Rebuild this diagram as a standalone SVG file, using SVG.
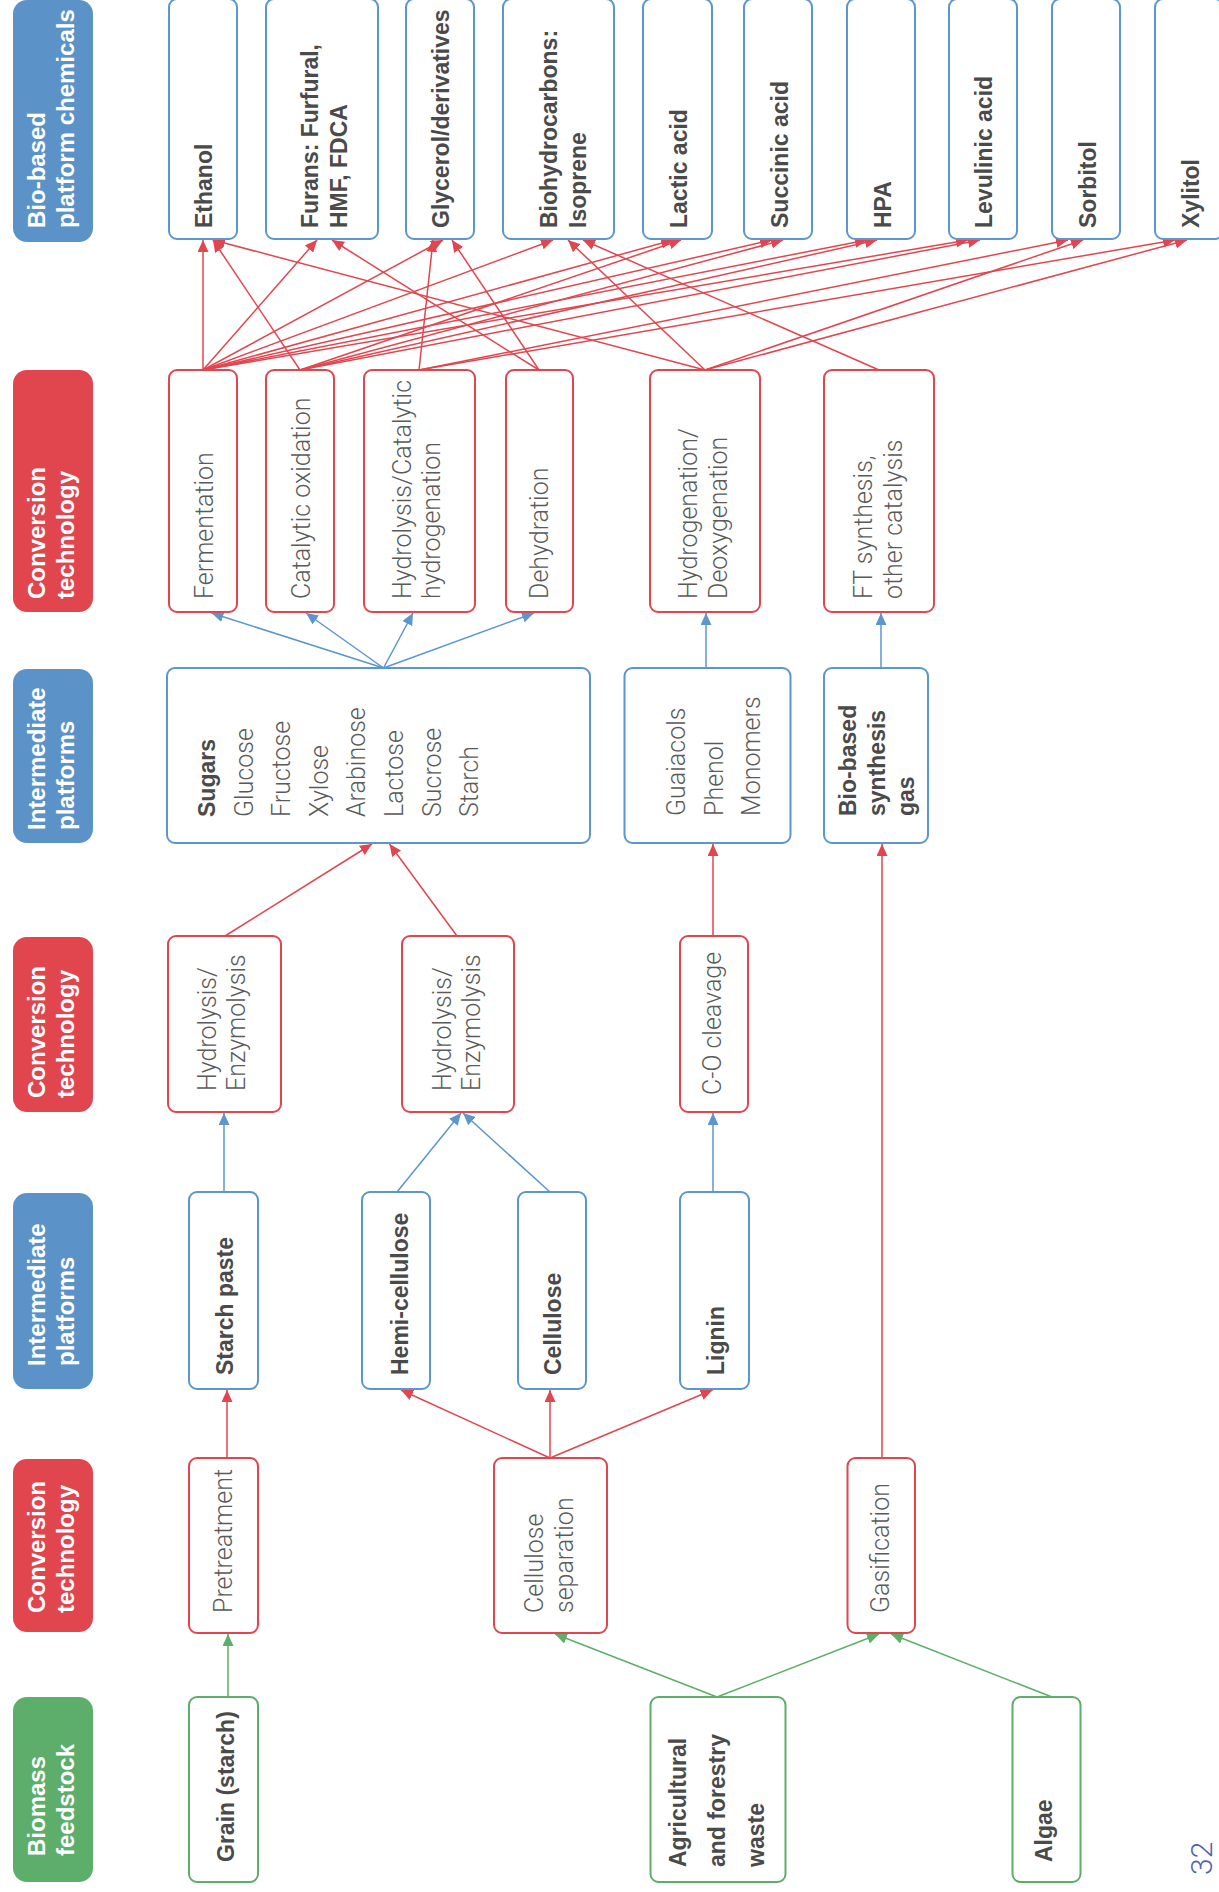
<svg xmlns="http://www.w3.org/2000/svg" width="1219" height="1892" viewBox="0 0 1219 1892">
<defs>
<marker id="mr" viewBox="0 0 12 11" refX="12" refY="5.5" markerWidth="12" markerHeight="11" markerUnits="userSpaceOnUse" orient="auto"><path d="M0,0 L12,5.5 L0,11 z" fill="#e1464f"/></marker>
<marker id="mb" viewBox="0 0 12 11" refX="12" refY="5.5" markerWidth="12" markerHeight="11" markerUnits="userSpaceOnUse" orient="auto"><path d="M0,0 L12,5.5 L0,11 z" fill="#5b96cf"/></marker>
<marker id="mg" viewBox="0 0 12 11" refX="12" refY="5.5" markerWidth="12" markerHeight="11" markerUnits="userSpaceOnUse" orient="auto"><path d="M0,0 L12,5.5 L0,11 z" fill="#5cae6a"/></marker>
</defs>
<style>
.hb{fill:#5b93c9}.hr{fill:#e1464f}.hg{fill:#5cae6a}
.ht{font-family:"Liberation Sans",Arial,sans-serif;font-weight:700;font-size:24px;fill:#fff}
.nb rect{fill:#fff;stroke:#5b96cf;stroke-width:2}
.nr rect{fill:#fff;stroke:#e1464f;stroke-width:2}
.ng rect{fill:#fff;stroke:#5cae6a;stroke-width:2}
.tb{font-family:"Liberation Sans",Arial,sans-serif;font-weight:700;font-size:23px;fill:#4a4a4a}
.tl{font-family:Roboto,"Liberation Sans",sans-serif;font-weight:300;font-size:25px;fill:#5a5a5a}
.er{stroke:#e1464f;stroke-width:1.5;fill:none;marker-end:url(#mr)}
.eb{stroke:#5b96cf;stroke-width:1.5;fill:none;marker-end:url(#mb)}
.eg{stroke:#5cae6a;stroke-width:1.5;fill:none;marker-end:url(#mg)}
.pg{font-family:Roboto,"Liberation Sans",sans-serif;font-weight:300;font-size:30px;fill:#5060ae}
</style>
<rect width="1219" height="1892" fill="#fff"/>

<g id="headers">
<g id="h1"><rect class="hb" x="13" y="0" width="80" height="242" rx="14"/><text class="ht" transform="translate(45,228) rotate(-90)"><tspan x="0" y="0">Bio-based</tspan><tspan x="0" y="29">platform chemicals</tspan></text></g>
<g id="h2"><rect class="hr" x="13" y="370" width="80" height="242" rx="14"/><text class="ht" transform="translate(45,599) rotate(-90)"><tspan x="0" y="0">Conversion</tspan><tspan x="0" y="29">technology</tspan></text></g>
<g id="h3"><rect class="hb" x="13" y="669" width="80" height="174" rx="14"/><text class="ht" transform="translate(45,830) rotate(-90)"><tspan x="0" y="0">Intermediate</tspan><tspan x="0" y="29">platforms</tspan></text></g>
<g id="h4"><rect class="hr" x="13" y="937" width="80" height="175" rx="14"/><text class="ht" transform="translate(45,1098) rotate(-90)"><tspan x="0" y="0">Conversion</tspan><tspan x="0" y="29">technology</tspan></text></g>
<g id="h5"><rect class="hb" x="13" y="1193" width="80" height="196" rx="14"/><text class="ht" transform="translate(45,1366) rotate(-90)"><tspan x="0" y="0">Intermediate</tspan><tspan x="0" y="29">platforms</tspan></text></g>
<g id="h6"><rect class="hr" x="13" y="1459" width="80" height="173" rx="14"/><text class="ht" transform="translate(45,1613) rotate(-90)"><tspan x="0" y="0">Conversion</tspan><tspan x="0" y="29">technology</tspan></text></g>
<g id="h7"><rect class="hg" x="13" y="1697" width="80" height="185" rx="14"/><text class="ht" transform="translate(45,1856) rotate(-90)"><tspan x="0" y="0">Biomass</tspan><tspan x="0" y="29">feedstock</tspan></text></g>
</g>

<g id="connectors">
<line class="er" x1="203" y1="370" x2="203" y2="240"/>
<line class="er" x1="203" y1="370" x2="317" y2="240"/>
<line class="er" x1="203" y1="370" x2="443" y2="240"/>
<line class="er" x1="203" y1="370" x2="553" y2="240"/>
<line class="er" x1="203" y1="370" x2="673" y2="240"/>
<line class="er" x1="203" y1="370" x2="772" y2="240"/>
<line class="er" x1="203" y1="370" x2="867" y2="240"/>
<line class="er" x1="203" y1="370" x2="968" y2="240"/>
<line class="er" x1="300" y1="370" x2="213" y2="240"/>
<line class="er" x1="300" y1="370" x2="681" y2="240"/>
<line class="er" x1="300" y1="370" x2="783" y2="240"/>
<line class="er" x1="300" y1="370" x2="877" y2="240"/>
<line class="er" x1="300" y1="370" x2="980" y2="240"/>
<line class="er" x1="419" y1="370" x2="433" y2="240"/>
<line class="er" x1="419" y1="370" x2="1068" y2="240"/>
<line class="er" x1="419" y1="370" x2="1175" y2="240"/>
<line class="er" x1="539" y1="370" x2="332" y2="240"/>
<line class="er" x1="539" y1="370" x2="452" y2="240"/>
<line class="er" x1="705" y1="370" x2="213" y2="240"/>
<line class="er" x1="705" y1="370" x2="568" y2="240"/>
<line class="er" x1="705" y1="370" x2="1083" y2="240"/>
<line class="er" x1="705" y1="370" x2="1187" y2="240"/>
<line class="er" x1="879" y1="370" x2="583" y2="240"/>

<line class="eb" x1="383.5" y1="668" x2="211.5" y2="613"/>
<line class="eb" x1="383.5" y1="668" x2="306" y2="613"/>
<line class="eb" x1="383.5" y1="668" x2="413" y2="613"/>
<line class="eb" x1="383.5" y1="668" x2="534" y2="613"/>
<line class="eb" x1="706" y1="668" x2="706" y2="613"/>
<line class="eb" x1="881" y1="668" x2="881" y2="613"/>

<line class="er" x1="225" y1="936" x2="372" y2="844"/>
<line class="er" x1="457" y1="936" x2="389.5" y2="844"/>
<line class="er" x1="713" y1="936" x2="713" y2="844"/>
<line class="er" x1="882" y1="1458" x2="882" y2="844"/>

<line class="eb" x1="224" y1="1192" x2="224" y2="1113"/>
<line class="eb" x1="397" y1="1192" x2="461" y2="1113"/>
<line class="eb" x1="550" y1="1192" x2="463" y2="1113"/>
<line class="eb" x1="713" y1="1192" x2="713" y2="1113"/>

<line class="er" x1="227" y1="1458" x2="227" y2="1390"/>
<line class="er" x1="550" y1="1458" x2="401" y2="1390"/>
<line class="er" x1="550" y1="1458" x2="550" y2="1390"/>
<line class="er" x1="550" y1="1458" x2="712.5" y2="1390"/>

<line class="eg" x1="228" y1="1697" x2="228" y2="1634"/>
<line class="eg" x1="717" y1="1697" x2="555" y2="1634"/>
<line class="eg" x1="717" y1="1697" x2="879" y2="1634"/>
<line class="eg" x1="1052" y1="1697" x2="891" y2="1634"/>
</g>

<g id="chemicals">
<g id="ethanol" class="nb"><rect x="169" y="-1" width="68" height="240" rx="8"/><text class="tb" transform="translate(212,228) rotate(-90)">Ethanol</text></g>
<g id="furans" class="nb"><rect x="266" y="-1" width="112" height="240" rx="8"/><text class="tb" transform="translate(318,228) rotate(-90)"><tspan x="0" y="0">Furans: Furfural,</tspan><tspan x="0" y="29">HMF, FDCA</tspan></text></g>
<g id="glycerol" class="nb"><rect x="406" y="-1" width="68" height="240" rx="8"/><text class="tb" transform="translate(449,228) rotate(-90)">Glycerol/derivatives</text></g>
<g id="biohydrocarbons" class="nb"><rect x="503" y="-1" width="111" height="240" rx="8"/><text class="tb" transform="translate(557,228) rotate(-90)"><tspan x="0" y="0">Biohydrocarbons:</tspan><tspan x="0" y="29">Isoprene</tspan></text></g>
<g id="lactic" class="nb"><rect x="643" y="-1" width="69" height="240" rx="8"/><text class="tb" transform="translate(687,228) rotate(-90)">Lactic acid</text></g>
<g id="succinic" class="nb"><rect x="744" y="-1" width="68" height="240" rx="8"/><text class="tb" transform="translate(788,228) rotate(-90)">Succinic acid</text></g>
<g id="hpa" class="nb"><rect x="847" y="-1" width="68" height="240" rx="8"/><text class="tb" transform="translate(891,228) rotate(-90)">HPA</text></g>
<g id="levulinic" class="nb"><rect x="949" y="-1" width="68" height="240" rx="8"/><text class="tb" transform="translate(992,228) rotate(-90)">Levulinic acid</text></g>
<g id="sorbitol" class="nb"><rect x="1052" y="-1" width="68" height="240" rx="8"/><text class="tb" transform="translate(1096,228) rotate(-90)">Sorbitol</text></g>
<g id="xylitol" class="nb"><rect x="1155" y="-1" width="68" height="240" rx="8"/><text class="tb" transform="translate(1199,228) rotate(-90)">Xylitol</text></g>
</g>

<g id="conversion1">
<g id="fermentation" class="nr"><rect x="169" y="370" width="68" height="242" rx="8"/><text class="tl" transform="translate(213,599) rotate(-90)">Fermentation</text></g>
<g id="catox" class="nr"><rect x="266" y="370" width="68" height="242" rx="8"/><text class="tl" transform="translate(310,599) rotate(-90)">Catalytic oxidation</text></g>
<g id="hydrocat" class="nr"><rect x="364" y="370" width="111" height="242" rx="8"/><text class="tl" transform="translate(411,599) rotate(-90)"><tspan x="0" y="0">Hydrolysis/Catalytic</tspan><tspan x="0" y="29">hydrogenation</tspan></text></g>
<g id="dehydration" class="nr"><rect x="506" y="370" width="67" height="242" rx="8"/><text class="tl" transform="translate(548,599) rotate(-90)">Dehydration</text></g>
<g id="hydrodeox" class="nr"><rect x="650" y="370" width="110" height="242" rx="8"/><text class="tl" transform="translate(697,599) rotate(-90)"><tspan x="0" y="0">Hydrogenation/</tspan><tspan x="0" y="30">Deoxygenation</tspan></text></g>
<g id="ft" class="nr"><rect x="824" y="370" width="110" height="242" rx="8"/><text class="tl" transform="translate(872,599) rotate(-90)"><tspan x="0" y="0">FT synthesis,</tspan><tspan x="0" y="30">other catalysis</tspan></text></g>
</g>

<g id="intermediate1">
<g id="sugars" class="nb"><rect x="167" y="668" width="423" height="175" rx="8"/><text transform="translate(215,817) rotate(-90)"><tspan class="tb" x="0" y="0">Sugars</tspan><tspan class="tl" x="0" y="37.6">Glucose</tspan><tspan class="tl" x="0" y="75.2">Fructose</tspan><tspan class="tl" x="0" y="112.8">Xylose</tspan><tspan class="tl" x="0" y="150.4">Arabinose</tspan><tspan class="tl" x="0" y="188">Lactose</tspan><tspan class="tl" x="0" y="225.6">Sucrose</tspan><tspan class="tl" x="0" y="263.2">Starch</tspan></text></g>
<g id="guaiacols" class="nb"><rect x="624.5" y="668" width="166" height="175" rx="8"/><text class="tl" transform="translate(685,816) rotate(-90)"><tspan x="0" y="0">Guaiacols</tspan><tspan x="0" y="37.7">Phenol</tspan><tspan x="0" y="75.4">Monomers</tspan></text></g>
<g id="syngas" class="nb"><rect x="824" y="668" width="104" height="175" rx="8"/><text class="tb" transform="translate(856,816) rotate(-90)"><tspan x="0" y="0">Bio-based</tspan><tspan x="0" y="29">synthesis</tspan><tspan x="0" y="58">gas</tspan></text></g>
</g>

<g id="conversion2">
<g id="hydroenz1" class="nr"><rect x="168" y="936" width="113" height="176" rx="8"/><text class="tl" transform="translate(216,1091) rotate(-90)"><tspan x="0" y="0">Hydrolysis/</tspan><tspan x="0" y="29">Enzymolysis</tspan></text></g>
<g id="hydroenz2" class="nr"><rect x="402" y="936" width="112" height="176" rx="8"/><text class="tl" transform="translate(451,1091) rotate(-90)"><tspan x="0" y="0">Hydrolysis/</tspan><tspan x="0" y="29">Enzymolysis</tspan></text></g>
<g id="cocleavage" class="nr"><rect x="680" y="936" width="68" height="176" rx="8"/><text class="tl" transform="translate(721,1095) rotate(-90)">C-O cleavage</text></g>
</g>

<g id="intermediate2">
<g id="starchpaste" class="nb"><rect x="189" y="1192" width="69" height="197" rx="8"/><text class="tb" transform="translate(233,1375) rotate(-90)">Starch paste</text></g>
<g id="hemicellulose" class="nb"><rect x="362" y="1192" width="68" height="197" rx="8"/><text class="tb" transform="translate(408,1375) rotate(-90)">Hemi-cellulose</text></g>
<g id="cellulose" class="nb"><rect x="518" y="1192" width="68" height="197" rx="8"/><text class="tb" transform="translate(561,1375) rotate(-90)">Cellulose</text></g>
<g id="lignin" class="nb"><rect x="680" y="1192" width="69" height="197" rx="8"/><text class="tb" transform="translate(724,1375) rotate(-90)">Lignin</text></g>
</g>

<g id="conversion3">
<g id="pretreatment" class="nr"><rect x="189" y="1458" width="69" height="175" rx="8"/><text class="tl" transform="translate(232,1613) rotate(-90)">Pretreatment</text></g>
<g id="cellsep" class="nr"><rect x="494" y="1458" width="113" height="175" rx="8"/><text class="tl" transform="translate(543,1613) rotate(-90)"><tspan x="0" y="0">Cellulose</tspan><tspan x="0" y="30">separation</tspan></text></g>
<g id="gasification" class="nr"><rect x="847.5" y="1458" width="67.5" height="175" rx="8"/><text class="tl" transform="translate(889,1613) rotate(-90)">Gasification</text></g>
</g>

<g id="feedstock">
<g id="grain" class="ng"><rect x="189" y="1697" width="69" height="185" rx="8"/><text class="tb" transform="translate(234,1862) rotate(-90)">Grain (starch)</text></g>
<g id="agri" class="ng"><rect x="650.5" y="1697" width="135" height="185" rx="8"/><text class="tb" transform="translate(686,1867) rotate(-90)"><tspan x="0" y="0">Agricultural</tspan><tspan x="0" y="39">and forestry</tspan><tspan x="0" y="78">waste</tspan></text></g>
<g id="algae" class="ng"><rect x="1012.5" y="1697" width="68" height="185" rx="8"/><text class="tb" transform="translate(1052,1862) rotate(-90)">Algae</text></g>
</g>

<text class="pg" transform="translate(1212,1875) rotate(-90)">32</text>
</svg>
